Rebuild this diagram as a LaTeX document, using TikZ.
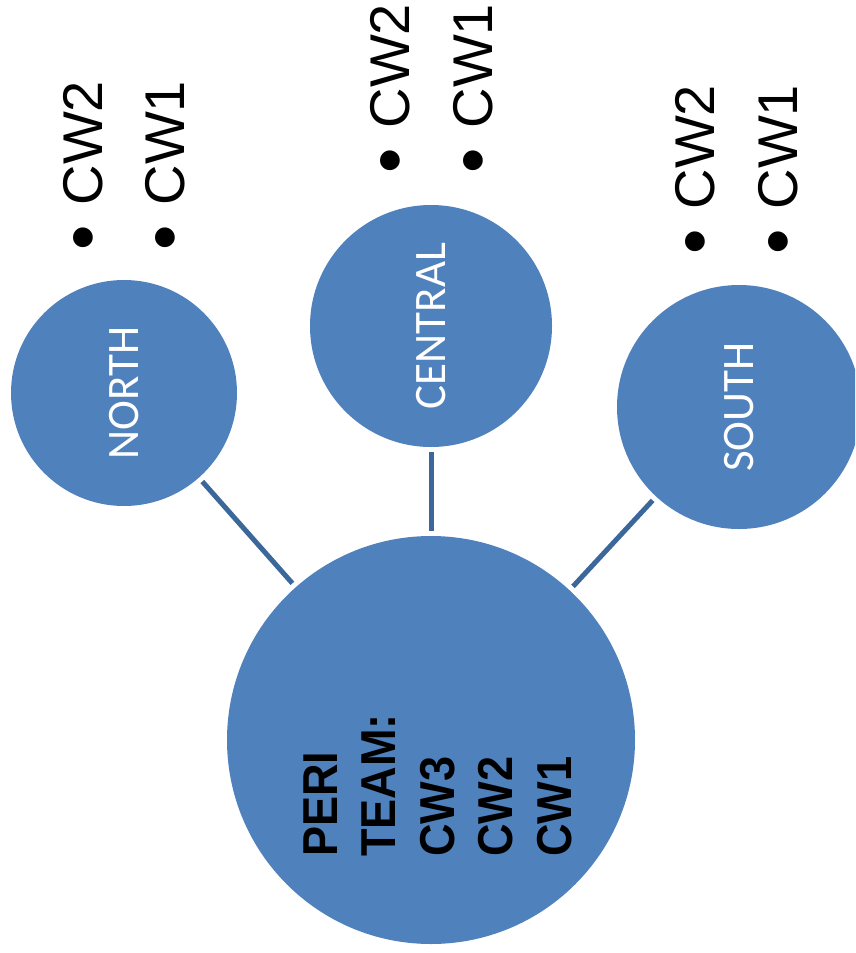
\documentclass[tikz,border=0pt]{standalone}
\usepackage{fontspec}
\setmainfont{Liberation Sans}
\newfontfamily\circfont{Carlito}

\definecolor{circblue}{RGB}{79,129,189}
\definecolor{lineblue}{RGB}{60,103,155}

\newcommand{\cwbullet}{\raisebox{-5pt}{\scalebox{1.3}{•}}\hspace{20pt}}

\tikzset{
  region/.style={circle, fill=circblue, inner sep=0pt, text=white,
    font=\circfont\fontsize{45}{54}\selectfont, rotate=90},
  link/.style={draw=lineblue, line width=5pt, shorten <=5pt, shorten >=5pt},
  cwitem/.style={anchor=base west, inner sep=0pt, rotate=90,
    font=\fontsize{56}{66}\selectfont},
  teamtext/.style={anchor=south west, inner sep=0pt, rotate=90, xscale=0.92,
    align=left, font=\bfseries\fontsize{49}{58.5}\selectfont}
}

\begin{document}
\begin{tikzpicture}[x=1pt,y=-1pt]
\clip (0,0) rectangle (855,953);

\node[region, minimum size=226pt] (north) at (124,393) {NORTH};
\node[region, minimum size=242pt] (central) at (431,326) {CENTRAL};
\node[region, minimum size=244pt] (south) at (739,407) {SOUTH};
\node[circle, fill=circblue, inner sep=0pt, minimum size=408pt] (peri) at (431,740) {};
\node[teamtext] (team) at (572,857) {PERI\\TEAM:\\CW3\\CW2\\CW1};

\draw[link] (north) -- (peri);
\draw[link] (central) -- (peri);
\draw[link] (south) -- (peri);

\node[cwitem] (north2) at (102,251) {\cwbullet CW2};
\node[cwitem] (north1) at (184,251) {\cwbullet CW1};
\node[cwitem] (central2) at (409,174) {\cwbullet CW2};
\node[cwitem] (central1) at (492,174) {\cwbullet CW1};
\node[cwitem] (south2) at (714,255) {\cwbullet CW2};
\node[cwitem] (south1) at (797,255) {\cwbullet CW1};

\end{tikzpicture}
\end{document}
